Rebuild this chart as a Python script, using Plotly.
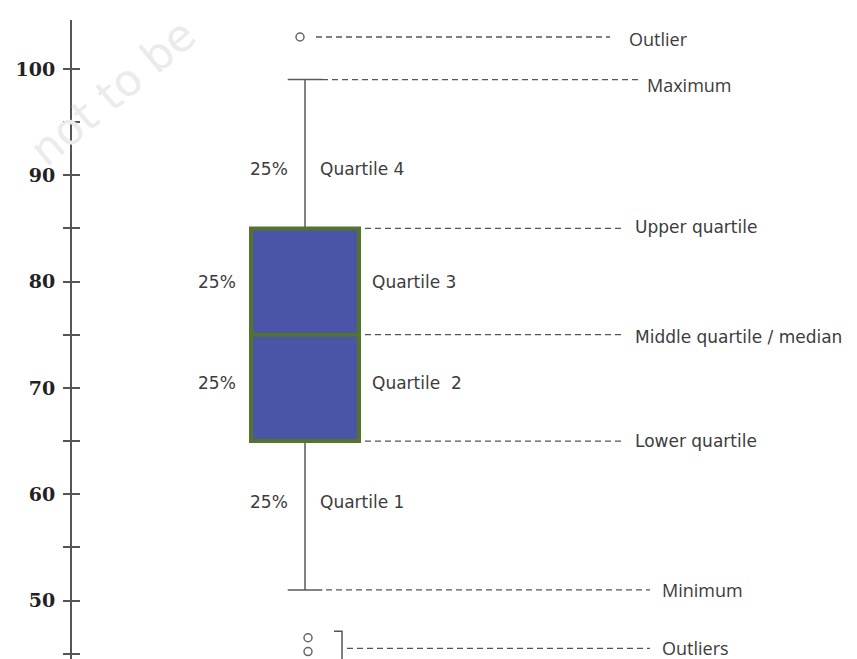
import plotly.graph_objects as go

# ---- data ----
box_center = 305
q1 = 65
median = 75
q3 = 85
minimum = 51
maximum = 99
upper_outliers = [103]
lower_outliers = [46.5, 45.2]

tick_values = [50, 60, 70, 80, 90, 100]
tick_labels = ["50", "60", "70", "80", "90", "100"]

right_labels = ["Outlier", "Maximum", "Upper quartile", "Middle quartile / median",
                "Lower quartile", "Minimum", "Outliers"]
right_values = [103, 99, 85, 75, 65, 51, 45.5]

quartile_names = ["Quartile 4", "Quartile 3", "Quartile  2", "Quartile 1"]
quartile_mid = [90.6, 80, 70.5, 59.3]
quartile_share = ["25%", "25%", "25%", "25%"]

TXT = "#3c3c3c"
GRAY = "#666666"

fig = go.Figure()

# whiskers + caps (thin gray)
fig.add_trace(go.Box(
    x=[box_center], q1=[q1], median=[median], q3=[q3],
    lowerfence=[minimum], upperfence=[maximum],
    width=108, whiskerwidth=0.32,
    line=dict(color="#5a5a5a", width=1.5), fillcolor="rgba(0,0,0,0)",
    boxpoints=False, showlegend=False, hoverinfo="skip"))

# the box itself (blue with green border)
fig.add_trace(go.Box(
    x=[box_center], q1=[q1], median=[median], q3=[q3],
    lowerfence=[q1], upperfence=[q3],
    width=108, whiskerwidth=0,
    line=dict(color="#55732f", width=4), fillcolor="#4a55a7",
    boxpoints=False, showlegend=False, hoverinfo="skip"))

# outliers
fig.add_trace(go.Scatter(
    x=[box_center - 5] * len(upper_outliers) + [box_center + 3] * len(lower_outliers),
    y=upper_outliers + lower_outliers,
    mode="markers",
    marker=dict(symbol="circle-open", size=8, color=GRAY, line=dict(width=1.5)),
    showlegend=False, hoverinfo="skip"))

# dashed guide lines and right-hand labels
line_start = [box_center + 11, box_center + 17, 365, 365, 365, box_center + 21, 347]
line_end = [610, 640, 625, 625, 625, 650, 650]
label_x = [627, 645, 633, 633, 633, 660, 660]
label_shift = [-2, -5, 1, -2, 0, 0, 0]
label_font = ["Open Sans", "Open Sans", "DejaVu Sans", "DejaVu Sans", "DejaVu Sans",
              "Open Sans", "Open Sans"]
label_size = [18, 18, 17, 17, 17, 18, 18]

shapes = []
annotations = []
for lab, val, xs, xe, lx, sh, fnt, fs in zip(right_labels, right_values, line_start, line_end,
                                              label_x, label_shift, label_font, label_size):
    shapes.append(dict(type="line", xref="x", yref="y", x0=xs, x1=xe, y0=val, y1=val,
                       line=dict(color="#555555", width=1.3, dash="6px,4px")))
    annotations.append(dict(x=lx, y=val, xref="x", yref="y", text=lab, showarrow=False,
                            xanchor="left", yanchor="middle", yshift=sh,
                            font=dict(family=fnt, size=fs, color=TXT)))

# bracket for lower outliers
shapes.append(dict(type="path", xref="x", yref="y",
                   path="M 334,47.1 L 342,47.1 L 342,44.4",
                   line=dict(color="#555555", width=1.5)))

# quartile labels
share_x = [248, 196, 196, 248]
name_x = [318, 370, 370, 318]
for nm, mid, pct, sx, nx in zip(quartile_names, quartile_mid, quartile_share, share_x, name_x):
    annotations.append(dict(x=sx, y=mid, xref="x", yref="y", text=pct, showarrow=False,
                            xanchor="left", yanchor="middle",
                            font=dict(family="DejaVu Sans", size=17, color=TXT)))
    annotations.append(dict(x=nx, y=mid, xref="x", yref="y", text=nm, showarrow=False,
                            xanchor="left", yanchor="middle",
                            font=dict(family="DejaVu Sans", size=17, color=TXT)))

# faint watermark
annotations.append(dict(x=112, y=97.8, xref="x", yref="y", text="not to be",
                        showarrow=False, textangle=-40, xanchor="center", yanchor="middle",
                        font=dict(family="DejaVu Sans", size=44, color="#ebebeb")))

fig.update_layout(
    width=857, height=659,
    margin=dict(l=64, r=0, t=12, b=8),
    paper_bgcolor="white", plot_bgcolor="white",
    xaxis=dict(range=[72, 865], visible=False, fixedrange=True),
    yaxis=dict(range=[44.5, 104.6], tickvals=tick_values, ticktext=tick_labels,
               ticks="outside", ticklen=7, tickwidth=1.5, tickcolor="#555555",
               ticklabelstandoff=4,
               showline=True, linecolor="#555555", linewidth=2,
               showgrid=False, zeroline=False,
               minor=dict(tickmode="linear", tick0=45, dtick=10, ticks="outside",
                          ticklen=7, tickwidth=1.5, tickcolor="#555555", showgrid=False),
               tickfont=dict(family="DejaVu Serif", size=19, color="#222222", weight=700)),
    yaxis2=dict(overlaying="y", matches="y", side="left", anchor="x",
                range=[44.5, 104.6], tickvals=tick_values,
                ticks="inside", ticklen=8, tickwidth=1.5, tickcolor="#555555",
                showticklabels=False, showline=False, showgrid=False, zeroline=False,
                minor=dict(tickmode="linear", tick0=45, dtick=10, ticks="inside",
                           ticklen=8, tickwidth=1.5, tickcolor="#555555", showgrid=False)),
    shapes=shapes, annotations=annotations,
)

# dummy trace so yaxis2 is drawn
fig.add_trace(go.Scatter(x=[None], y=[None], yaxis="y2", showlegend=False, hoverinfo="skip"))

fig.write_html("out.html")
